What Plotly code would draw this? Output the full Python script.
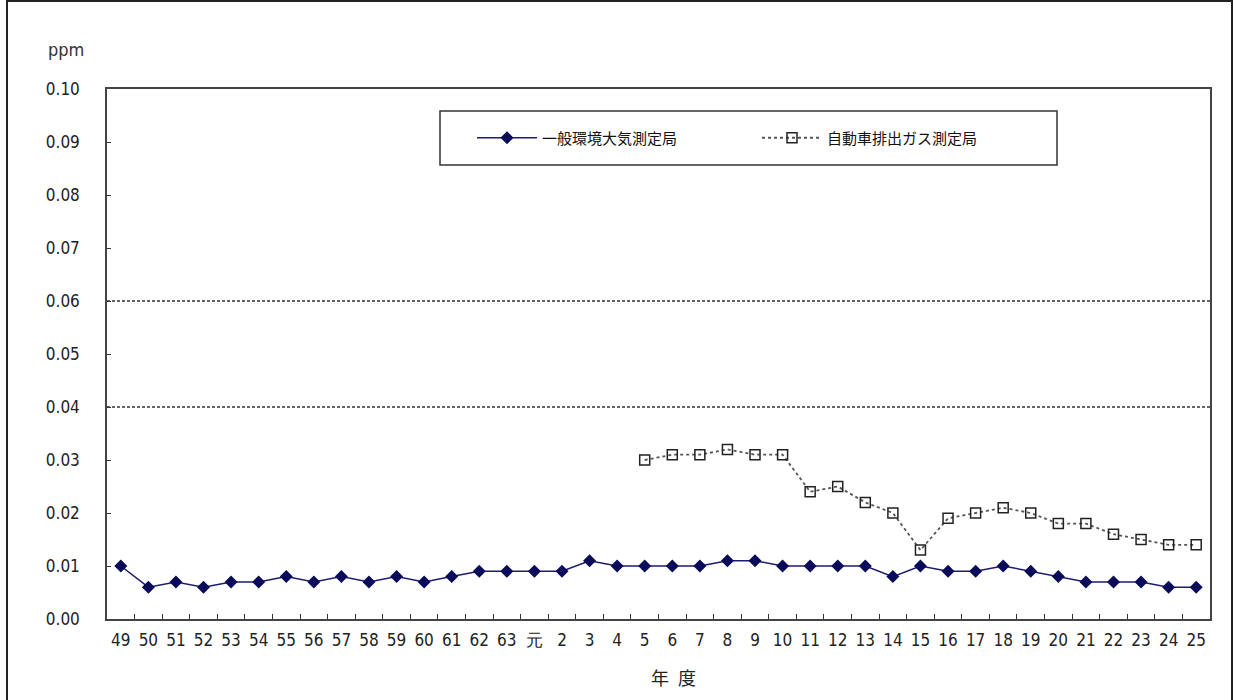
import plotly.graph_objects as go

# 年度ラベル（昭和49年度〜平成25年度）
years = ["49", "50", "51", "52", "53", "54", "55", "56", "57", "58", "59", "60",
         "61", "62", "63", "元", "2", "3", "4", "5", "6", "7", "8", "9", "10",
         "11", "12", "13", "14", "15", "16", "17", "18", "19", "20", "21", "22",
         "23", "24", "25"]

# 一般環境大気測定局 (ppm)
general = [0.010, 0.006, 0.007, 0.006, 0.007, 0.007, 0.008, 0.007, 0.008, 0.007,
           0.008, 0.007, 0.008, 0.009, 0.009, 0.009, 0.009, 0.011, 0.010, 0.010,
           0.010, 0.010, 0.011, 0.011, 0.010, 0.010, 0.010, 0.010, 0.008, 0.010,
           0.009, 0.009, 0.010, 0.009, 0.008, 0.007, 0.007, 0.007, 0.006, 0.006]

# 自動車排出ガス測定局 (ppm)（平成5年度〜）
roadside_years = ["5", "6", "7", "8", "9", "10", "11", "12", "13", "14", "15",
                  "16", "17", "18", "19", "20", "21", "22", "23", "24", "25"]
roadside = [0.030, 0.031, 0.031, 0.032, 0.031, 0.031, 0.024, 0.025, 0.022, 0.020,
            0.013, 0.019, 0.020, 0.021, 0.020, 0.018, 0.018, 0.016, 0.015, 0.014,
            0.014]

# 環境基準の範囲（0.04〜0.06ppm）
standard_levels = [0.04, 0.06]

y_ticks = [0.00, 0.01, 0.02, 0.03, 0.04, 0.05, 0.06, 0.07, 0.08, 0.09, 0.10]

FONT = "DejaVu Sans Condensed, Liberation Sans Narrow, Liberation Sans, Arial, sans-serif"
JP_FONT = "Noto Sans CJK JP, sans-serif"

# プロット領域（ピクセル）
PL, PR, PT, PB = 107, 1210, 89, 619
PW, PH = PR - PL, PB - PT


def px_x(x):
    return (x - PL) / PW


def px_y(y):
    return (PB - y) / PH


fig = go.Figure()

fig.add_trace(go.Scatter(
    x=years, y=general, mode="lines+markers", name="一般環境大気測定局",
    line=dict(color="#1c1c6e", width=1.5),
    marker=dict(symbol="diamond", size=10, color="#0a0a5a",
                line=dict(color="#0a0a5a", width=0)),
))

fig.add_trace(go.Scatter(
    x=roadside_years, y=roadside, mode="lines+markers", name="自動車排出ガス測定局",
    line=dict(color="#555555", width=1.8, dash="dot"),
    marker=dict(symbol="square-open", size=10, color="#222222",
                line=dict(color="#222222", width=1.5)),
))

for lvl in standard_levels:
    fig.add_hline(y=lvl, line=dict(color="#333333", width=1.6, dash="3px,2px"))

# 全体の外枠
fig.add_shape(type="rect", xref="paper", yref="paper",
              x0=px_x(7), x1=px_x(1232), y0=px_y(720), y1=px_y(1),
              line=dict(color="#222222", width=2), fillcolor="rgba(0,0,0,0)",
              layer="below")

# 凡例の枠
fig.add_shape(type="rect", xref="paper", yref="paper",
              x0=px_x(440), x1=px_x(1057), y0=px_y(165), y1=px_y(111),
              line=dict(color="#333333", width=1.5), fillcolor="white",
              layer="below")

fig.add_annotation(text="ppm", xref="paper", yref="paper",
                   x=px_x(66), y=px_y(50),
                   xanchor="center", yanchor="middle", showarrow=False,
                   font=dict(family=FONT, size=18, color="#333333"))

fig.add_annotation(text="年\u2002度", xref="paper", yref="paper",
                   x=px_x(673), y=px_y(677),
                   xanchor="center", yanchor="middle", showarrow=False,
                   font=dict(family=JP_FONT, size=18, color="#222222"))

fig.update_layout(
    width=1236, height=700,
    margin=dict(l=PL, r=1236 - PR, t=PT, b=700 - PB),
    paper_bgcolor="white", plot_bgcolor="white",
    showlegend=True,
    legend=dict(
        orientation="h", x=px_x(472), y=px_y(138),
        xanchor="left", yanchor="middle",
        entrywidth=210, entrywidthmode="pixels",
        bgcolor="rgba(0,0,0,0)", borderwidth=0,
        font=dict(family=JP_FONT, size=15, color="#111111"),
        itemwidth=60,
    ),
    xaxis=dict(
        type="category", categoryorder="array", categoryarray=years,
        range=[-0.5, len(years) - 0.5],
        tickmode="array", tickvals=years, ticktext=years,
        tickson="boundaries", ticks="inside", ticklen=5, tickwidth=1.2,
        tickcolor="#333333", tickangle=0,
        showline=True, linecolor="#444444", linewidth=1.5, mirror=True,
        showgrid=False, zeroline=False,
        tickfont=dict(family=FONT, size=17, color="#222222"),
        ticklabelstandoff=5,
    ),
    yaxis=dict(
        range=[0, 0.10], tickmode="array", tickvals=y_ticks,
        ticktext=[f"{v:.2f}" for v in y_ticks],
        ticks="inside", ticklen=4, tickwidth=1.2, tickcolor="#333333",
        showline=True, linecolor="#444444", linewidth=1.5, mirror=True,
        showgrid=False, zeroline=False,
        tickfont=dict(family=FONT, size=17, color="#222222"),
        ticklabelstandoff=22,
    ),
)

fig.write_html("out.html")
